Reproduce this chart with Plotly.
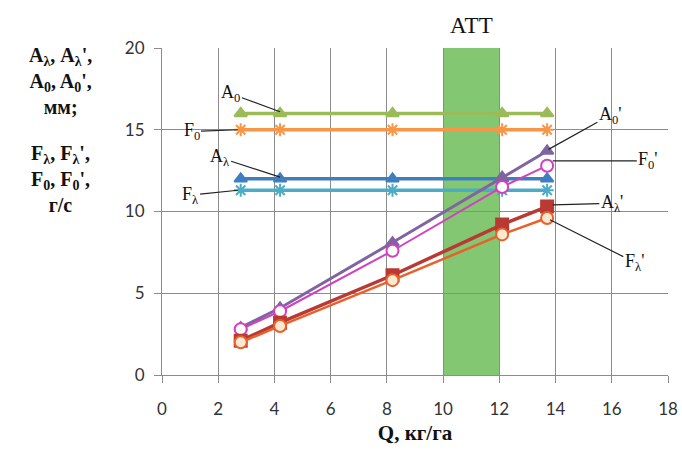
import plotly.graph_objects as go

# Application rate, kg/ha
q = [2.8, 4.2, 8.2, 12.1, 13.7]

# Constant reference levels
a0 = [16.0, 16.0, 16.0, 16.0, 16.0]
f0 = [15.0, 15.0, 15.0, 15.0, 15.0]
a_lam = [12.0, 12.0, 12.0, 12.0, 12.0]
f_lam = [11.3, 11.3, 11.3, 11.3, 11.3]

# Measured series
a0_p = [2.9, 4.1, 8.1, 12.1, 13.7]
f0_p = [2.8, 3.9, 7.6, 11.5, 12.8]
a_lam_p = [2.1, 3.2, 6.1, 9.2, 10.3]
f_lam_p = [2.0, 3.0, 5.8, 8.6, 9.6]

att_range = [10, 12]

fig = go.Figure()

# ATT zone
fig.add_shape(type="rect", xref="x", yref="paper", x0=att_range[0], x1=att_range[1],
              y0=0, y1=1, fillcolor="#7DC46A", opacity=0.95, line_width=0, layer="below")

def add(y, color, symbol, width=3.5, msize=11, mfill=None, mline=None):
    fig.add_trace(go.Scatter(
        x=q, y=y, mode="lines+markers",
        line=dict(color=color, width=width),
        marker=dict(symbol=symbol, size=msize, color=mfill or color,
                    line=dict(color=mline or color, width=2)),
        showlegend=False))

add(a0, "#9BBB59", "triangle-up")
add(f0, "#F79646", "asterisk", mline="#F79646")
add(a_lam, "#3F7FBF", "triangle-up")
add(f_lam, "#4BACC6", "asterisk", mline="#4BACC6")
add(a0_p, "#8064A2", "triangle-up", width=3)
add(f0_p, "#D040C0", "circle", width=2, msize=12, mfill="white", mline="#D040C0")
add(a_lam_p, "#B83A32", "square", width=3.5, msize=12)
add(f_lam_p, "#E8602C", "circle", width=2.5, msize=12, mfill="#FDE9D0", mline="#E8602C")

serif = "Liberation Serif, Times New Roman, serif"

# Series labels with leader lines: (text, label x, label y, point x, point y)
labels = [
    ("A<sub>0</sub>", 2.45, 17.2, 4.2, 16.1),
    ("F<sub>0</sub>", 1.05, 14.9, 2.7, 15.0),
    ("A<sub>λ</sub>", 2.05, 13.3, 4.2, 12.1),
    ("F<sub>λ</sub>", 1.0, 11.0, 2.7, 11.3),
    ("A<sub>0</sub>'", 15.95, 15.9, 13.75, 13.8),
    ("F<sub>0</sub>'", 17.3, 13.1, 13.9, 13.1),
    ("A<sub>λ</sub>'", 16.0, 10.5, 13.9, 10.4),
    ("F<sub>λ</sub>'", 16.8, 6.9, 13.8, 9.5),
]
for text, lx, ly, px, py in labels:
    fig.add_annotation(x=px, y=py, ax=lx, ay=ly, xref="x", yref="y", axref="x", ayref="y",
                       text=text, showarrow=True, arrowhead=0, arrowwidth=1.2,
                       arrowcolor="#222222", standoff=0,
                       font=dict(family=serif, size=18, color="#111111"))

fig.add_annotation(x=(att_range[0] + att_range[1]) / 2, y=1.0, xref="x", yref="paper",
                   yanchor="bottom", yshift=8, text="АТТ", showarrow=False,
                   font=dict(family=serif, size=23, color="#111111"))

fig.add_annotation(x=60, y=42, xref="paper", yref="paper", xanchor="center", yanchor="top",
                   text="<b>A<sub>λ</sub>, A<sub>λ</sub>',<br>A<sub>0</sub>, A<sub>0</sub>',<br>мм;</b>",
                   showarrow=False, align="center",
                   font=dict(family=serif, size=20, color="#111111"))
fig.add_annotation(x=60, y=140, xref="paper", yref="paper", xanchor="center", yanchor="top",
                   text="<b>F<sub>λ</sub>, F<sub>λ</sub>',<br>F<sub>0</sub>, F<sub>0</sub>',<br>г/с</b>",
                   showarrow=False, align="center",
                   font=dict(family=serif, size=20, color="#111111"))

tick_font = dict(family="Lato, Open Sans, sans-serif", size=17, color="#333333")
fig.update_xaxes(range=[0, 18], dtick=2, tick0=0, showgrid=True, gridcolor="#8C8C8C", gridwidth=1,
                 showline=True, linecolor="#8C8C8C", ticks="outside", ticklen=7, tickcolor="#8C8C8C",
                 ticklabelstandoff=12,
                 tickfont=tick_font, zeroline=False, automargin=False,
                 title=dict(text="<b>Q, кг/га</b>", font=dict(family=serif, size=21, color="#111111"),
                            standoff=6))
fig.update_yaxes(range=[0, 20], dtick=5, tick0=0, showgrid=True, gridcolor="#8C8C8C", gridwidth=1,
                 showline=True, linecolor="#8C8C8C", ticks="outside", ticklen=7, tickcolor="#8C8C8C",
                 ticklabelstandoff=6,
                 tickfont=tick_font, zeroline=False, automargin=False)

fig.update_layout(width=682, height=452, margin=dict(l=162, r=14, t=48, b=77),
                  plot_bgcolor="white", paper_bgcolor="white", showlegend=False)

# left-side title blocks are placed in pixel terms, converted to paper fractions
pw = 682 - 162 - 14
ph = 452 - 48 - 77
for ann in fig.layout.annotations[-2:]:
    ann.x = (ann.x - 162) / pw
    ann.y = 1 - (ann.y - 48) / ph

fig.write_html("out.html")
